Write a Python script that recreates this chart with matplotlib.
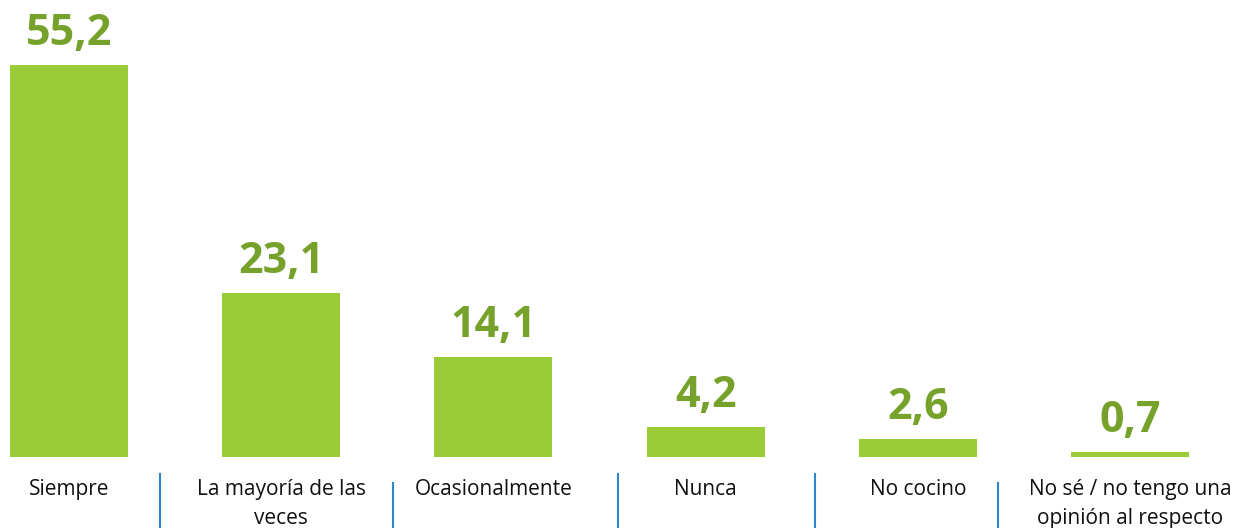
import matplotlib
matplotlib.use("Agg")
import matplotlib.pyplot as plt
from matplotlib.lines import Line2D

categories = ["Siempre", "La mayoría de las\nveces", "Ocasionalmente", "Nunca",
              "No cocino", "No sé / no tengo una\nopinión al respecto"]
values = [55.2, 23.1, 14.1, 4.2, 2.6, 0.7]
value_labels = ["55,2", "23,1", "14,1", "4,2", "2,6", "0,7"]

BAR_COLOR = "#9ACB38"
LABEL_COLOR = "#76A22B"
SEP_COLOR = "#2E86D1"

W, H = 1235, 528
fig = plt.figure(figsize=(W / 100, H / 100), dpi=100)
ax = fig.add_axes([0, 71 / H, 1, 457 / H])

x = list(range(len(values)))
ax.bar(x, values, width=0.556, color=BAR_COLOR)
ax.set_xlim(-69 / 212.2, (W - 69) / 212.2)
ax.set_ylim(0, 457 / 7.1)
ax.axis("off")

for xi, v, lab in zip(x, values, value_labels):
    ax.annotate(lab, (xi, v), xytext=(0, 7), textcoords="offset points",
                ha="center", va="bottom", fontsize=31, fontweight="bold",
                color=LABEL_COLOR, family="Open Sans")

trans = ax.get_xaxis_transform()
for xi, cat in zip(x, categories):
    ax.text(xi, -22 / 457, cat, transform=trans, ha="center", va="top",
            fontsize=15, color="#111111", family="Open Sans",
            linespacing=1.5, clip_on=False)

# separators between category labels (figure pixels)
sep_x = [160, 393, 618, 815, 998]
sep_top = [474, 483, 474, 474, 483]
for sx, st in zip(sep_x, sep_top):
    fig.add_artist(Line2D([sx / W, sx / W], [1 - st / H, 0],
                          transform=fig.transFigure, color=SEP_COLOR, lw=1.5))

fig.savefig("out.png", dpi=100)
